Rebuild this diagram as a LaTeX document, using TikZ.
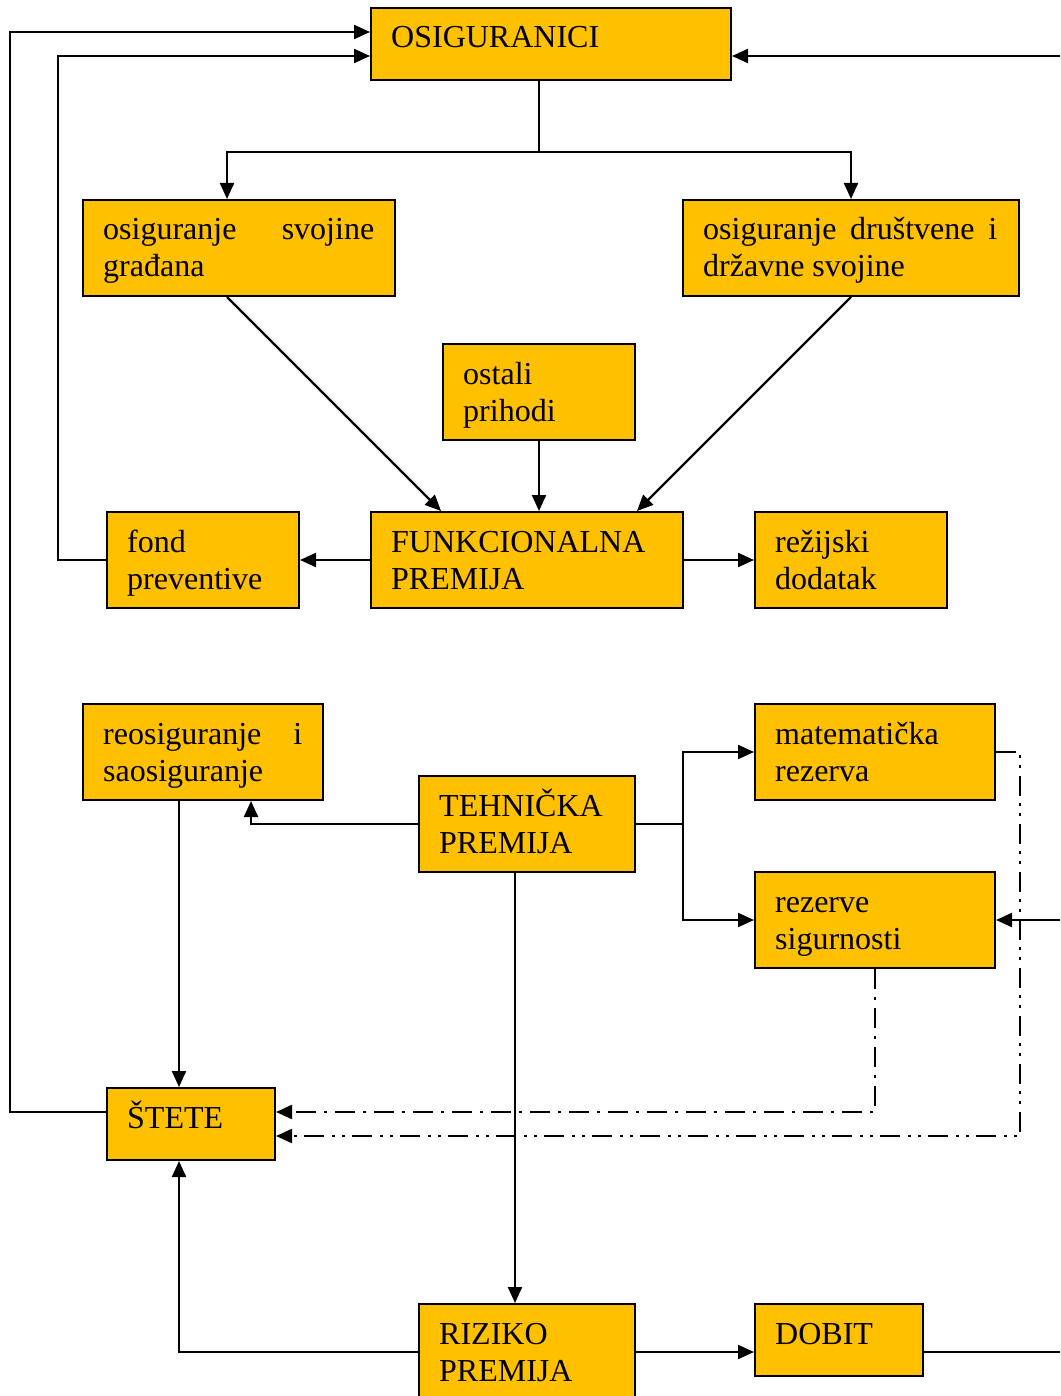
\documentclass[tikz,border=0pt]{standalone}
\usepackage{fontspec}
\setmainfont{Liberation Serif}
\usetikzlibrary{arrows.meta}
\definecolor{boxfill}{RGB}{255,192,0}
\begin{document}
\begin{tikzpicture}[x=1pt,y=-1pt,
  box/.style={draw=black, line width=2pt, fill=boxfill, rectangle, inner sep=0pt},
  lbl/.style={anchor=base west, inner sep=0pt, font=\fontsize{32}{37}\selectfont, align=left},
  conn/.style={line width=2.2pt},
  tip/.style={-{Triangle[length=16pt,width=14pt]}},
  arr/.style={conn, tip},
  dashdot/.style={dash pattern=on 20pt off 8pt on 3pt off 8pt},
  dashdotdot/.style={dash pattern=on 20pt off 7pt on 3pt off 7pt on 3pt off 8pt}]
\useasboundingbox (0,0) rectangle (1060,1396);

% boxes
\node[box, minimum width=360, minimum height=72] (osig)   at (551,44)   {};
\node[box, minimum width=312, minimum height=96] (prop1)  at (239,248)  {};
\node[box, minimum width=336, minimum height=96] (prop2)  at (851,248)  {};
\node[box, minimum width=192, minimum height=96] (ostali) at (539,392)  {};
\node[box, minimum width=192, minimum height=96] (fond)   at (203,560)  {};
\node[box, minimum width=312, minimum height=96] (funk)   at (527,560)  {};
\node[box, minimum width=192, minimum height=96] (rezij)  at (851,560)  {};
\node[box, minimum width=240, minimum height=96] (reos)   at (203,752)  {};
\node[box, minimum width=216, minimum height=96] (tehn)   at (527,824)  {};
\node[box, minimum width=240, minimum height=96] (mat)    at (875,752)  {};
\node[box, minimum width=240, minimum height=96] (sig)    at (875,920)  {};
\node[box, minimum width=168, minimum height=72] (stete)  at (191,1124) {};
\node[box, minimum width=216, minimum height=96] (riz)    at (527,1352) {};
\node[box, minimum width=168, minimum height=72] (dobit)  at (839,1340) {};

% labels (anchored at the baseline of their last line)
\node[lbl] (osigT)   at (391,48)   {OSIGURANICI};
\node[lbl] (prop1T)  at (103,277)  {\hbox to 271pt{osiguranje\hfill svojine}\\građana};
\node[lbl] (prop2T)  at (703,277)  {\hbox to 294pt{osiguranje\hfill društvene\hfill i}\\državne svojine};
\node[lbl] (ostaliT) at (463,421)  {ostali\\prihodi};
\node[lbl] (fondT)   at (127,589)  {fond\\preventive};
\node[lbl] (funkT)   at (391,589)  {FUNKCIONALNA\\PREMIJA};
\node[lbl] (rezijT)  at (775,589)  {režijski\\dodatak};
\node[lbl] (reosT)   at (103,781)  {\hbox to 199pt{reosiguranje\hfill i}\\saosiguranje};
\node[lbl] (tehnT)   at (439,853)  {TEHNIČKA\\PREMIJA};
\node[lbl] (matT)    at (775,781)  {matematička\\rezerva};
\node[lbl] (sigT)    at (775,949)  {rezerve\\sigurnosti};
\node[lbl] (steteT)  at (127,1128) {ŠTETE};
\node[lbl] (rizT)    at (439,1381) {RIZIKO\\PREMIJA};
\node[lbl] (dobitT)  at (775,1344) {DOBIT};

% free ends at the right border
\coordinate (rtop) at (1060,56);
\coordinate (rmid) at (1060,920);
\coordinate (rbot) at (1060,1352);

% top part
\coordinate (split) at (539,152);
\draw[conn] (osig.south -| ostali) -- (split);
\draw[arr] (split) -| ([xshift=-12pt]prop1.north);
\draw[arr] (split) -| (prop2.north);
\draw[arr] ([xshift=-12pt]prop1.south) -- ([xshift=-86pt]funk.north);
\draw[arr] (prop2.south) -- ([xshift=110pt]funk.north);
\draw[arr] (ostali.south) -- (funk.north -| ostali);
\draw[arr] (funk.west) -- (fond.east);
\draw[arr] (funk.east) -- (rezij.west);
\draw[arr] (fond.west) -- ++(-48,0) |- ([yshift=-12pt]osig.west);
\draw[arr] ([yshift=12pt]stete.west) -- ++(-96,0) |- ([yshift=12pt]osig.west);
\draw[arr] (rtop) -- ([yshift=-12pt]osig.east);

% lower part
\draw[arr] (tehn.west) -| ([xshift=48pt]reos.south);
\coordinate (branch) at (683,824);
\draw[conn] (tehn.east) -- (branch);
\draw[arr] (branch) |- (mat.west);
\draw[arr] (branch) |- (sig.west);
\draw[arr] (rmid) -- (sig.east);
\draw[arr] ([xshift=-12pt]tehn.south) -- ([xshift=-12pt]riz.north);
\draw[arr] ([xshift=-24pt]reos.south) -- ([xshift=-12pt]stete.north);
\draw[arr] (riz.west) -| ([xshift=-12pt]stete.south);
\draw[arr] (riz.east) -- ([yshift=-12pt]dobit.west);
\draw[conn] ([yshift=-12pt]dobit.east) -- (rbot);

% dash-dotted flows into the losses box
\draw[conn, dashdot, tip] (sig.south) |- ([yshift=12pt]stete.east);
\draw[conn, dashdotdot, tip] (mat.east) -- ++(24,0) |- ([yshift=-12pt]stete.east);
\end{tikzpicture}
\end{document}
